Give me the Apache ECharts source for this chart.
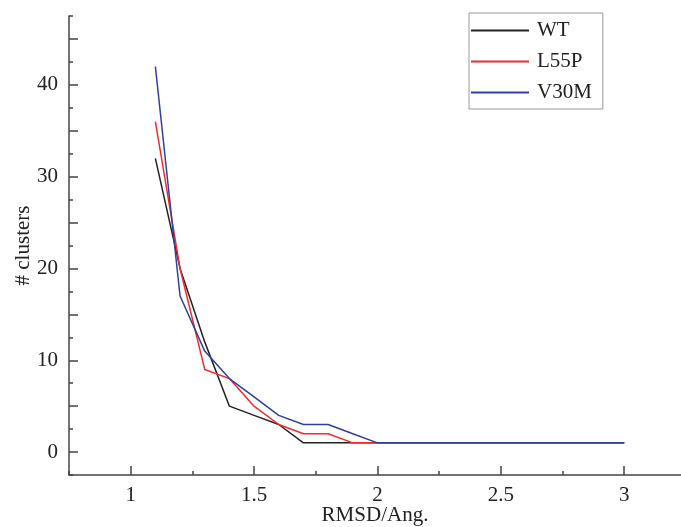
<!DOCTYPE html>
<html>
<head>
<meta charset="utf-8">
<script src="https://cdn.jsdelivr.net/npm/echarts@6/dist/echarts.min.js"></script>
<style>
html, body { margin: 0; padding: 0; background: #fff; }
#main { width: 681px; height: 527px; }
</style>
</head>
<body>
<div id="main"></div>
<script>
// data
var rmsd = [1.1, 1.2, 1.3, 1.4, 1.5, 1.6, 1.7, 1.8, 1.9, 2.0,
            2.1, 2.2, 2.3, 2.4, 2.5, 2.6, 2.7, 2.8, 2.9, 3.0];
var wt   = [32, 20, 12, 5, 4, 3, 1, 1, 1, 1, 1, 1, 1, 1, 1, 1, 1, 1, 1, 1];
var l55p = [36, 20, 9, 8, 5, 3, 2, 2, 1, 1, 1, 1, 1, 1, 1, 1, 1, 1, 1, 1];
var v30m = [42, 17, 11, 8, 6, 4, 3, 3, 2, 1, 1, 1, 1, 1, 1, 1, 1, 1, 1, 1];

var xLabels = [1, 1.5, 2, 2.5, 3];
var xMinorTicks = [0.75, 1, 1.25, 1.5, 1.75, 2, 2.25, 2.5, 2.75, 3];
var yLabels = [0, 10, 20, 30, 40];
var yMajorTicks = [0, 5, 10, 15, 20, 25, 30, 35, 40, 45];
var yMinorTicks = [-2.5, 0, 2.5, 5, 7.5, 10, 12.5, 15, 17.5, 20, 22.5, 25, 27.5,
                   30, 32.5, 35, 37.5, 40, 42.5, 45, 47.5];

var font = 'Liberation Serif';
var axisColor = '#444';

function pairs(ys) {
    return rmsd.map(function (x, i) { return [x, ys[i]]; });
}

var chart = echarts.init(document.getElementById('main'));
var option = {
    animation: false,
    grid: { left: 69, right: 0, top: 16, bottom: 52, outerBoundsMode: 'none', containLabel: false },
    legend: {
        orient: 'vertical',
        left: 469,
        top: 13,
        icon: 'rect',
        itemWidth: 58,
        itemHeight: 2,
        itemGap: 10,
        padding: [7, 11, 6, 2],
        borderColor: '#999',
        borderWidth: 1,
        textStyle: { fontFamily: font, fontSize: 21, color: '#222', padding: [0, 0, 0, 3] },
        data: ['WT', 'L55P', 'V30M']
    },
    xAxis: [{
        type: 'value',
        position: 'bottom',
        min: 0.75,
        max: 3.23,
        axisLine: { onZero: false, lineStyle: { color: axisColor, width: 1.5 } },
        axisTick: { inside: true, length: 4, customValues: xMinorTicks, lineStyle: { color: axisColor, width: 1.5 } },
        axisLabel: { customValues: xLabels, margin: 10, fontFamily: font, fontSize: 21, color: '#222' },
        splitLine: { show: false },
        name: 'RMSD/Ang.',
        nameLocation: 'middle',
        nameGap: 30,
        nameMoveOverlap: false,
        nameTextStyle: { fontFamily: font, fontSize: 21, color: '#222' }
    }, {
        type: 'value',
        position: 'bottom',
        min: 0.75,
        max: 3.23,
        axisLine: { show: false, onZero: false },
        axisTick: { inside: true, length: 9, customValues: xLabels, lineStyle: { color: axisColor, width: 1.5 } },
        axisLabel: { show: false },
        splitLine: { show: false }
    }],
    yAxis: [{
        type: 'value',
        position: 'left',
        min: -2.5,
        max: 47.5,
        axisLine: { show: true, onZero: false, lineStyle: { color: axisColor, width: 1.5 } },
        axisTick: { show: true, inside: true, length: 4, customValues: yMinorTicks, lineStyle: { color: axisColor, width: 1.5 } },
        axisLabel: { customValues: yLabels, margin: 11, fontFamily: font, fontSize: 21, color: '#222' },
        splitLine: { show: false },
        name: '# clusters',
        nameLocation: 'middle',
        nameGap: 35,
        nameRotate: 90,
        nameMoveOverlap: false,
        nameTextStyle: { fontFamily: font, fontSize: 21, color: '#222' }
    }, {
        type: 'value',
        position: 'left',
        min: -2.5,
        max: 47.5,
        axisLine: { show: false, onZero: false },
        axisTick: { show: true, inside: true, length: 9, customValues: yMajorTicks, lineStyle: { color: axisColor, width: 1.5 } },
        axisLabel: { show: false },
        splitLine: { show: false }
    }],
    series: [
        { name: 'WT', type: 'line', data: pairs(wt), showSymbol: false, color: '#222', lineStyle: { width: 1.5 } },
        { name: 'L55P', type: 'line', data: pairs(l55p), showSymbol: false, color: '#f52a2a', lineStyle: { width: 1.5 } },
        { name: 'V30M', type: 'line', data: pairs(v30m), showSymbol: false, color: '#2f3f9e', lineStyle: { width: 1.5 } }
    ]
};
chart.setOption(option);
</script>
</body>
</html>
